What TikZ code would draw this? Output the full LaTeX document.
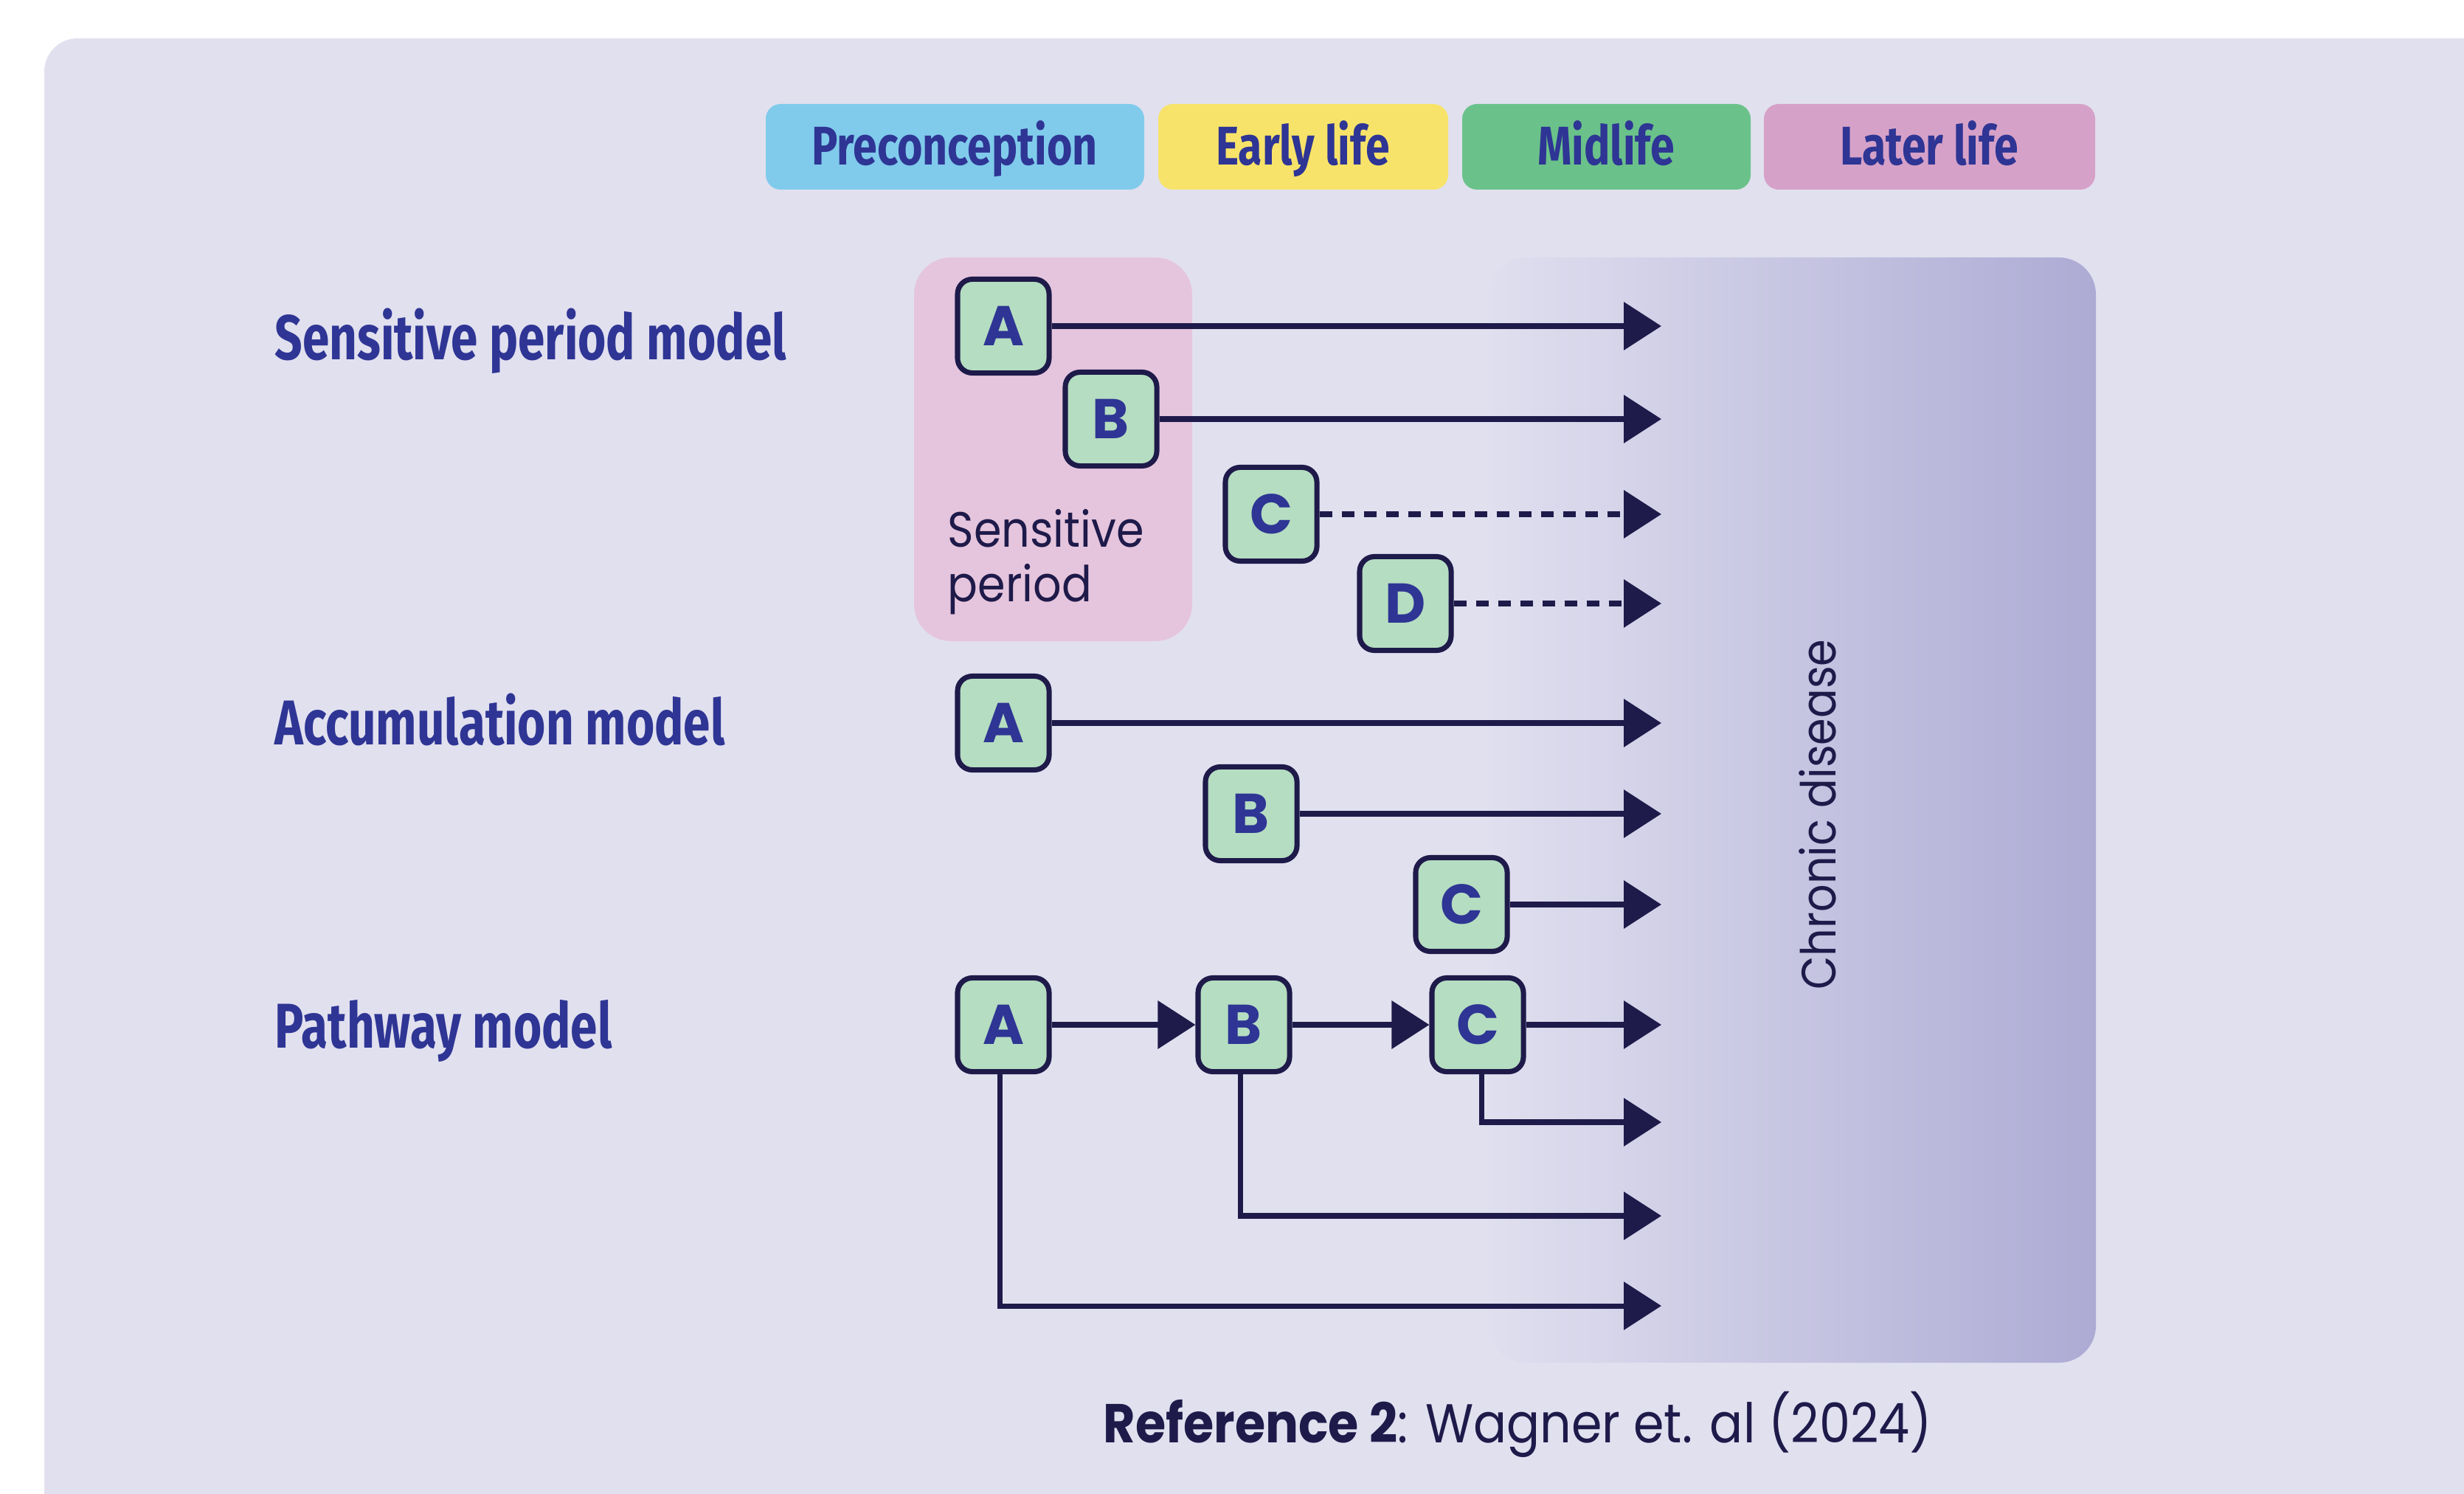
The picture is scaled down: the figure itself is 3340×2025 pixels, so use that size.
\documentclass[tikz,border=0pt]{standalone}
\usepackage{fontspec}
\usetikzlibrary{arrows.meta}
\newfontfamily\condb{Fira Sans}[FakeStretch=0.765]
\newfontfamily\condh{Fira Sans}[FakeStretch=0.80]
\newfontfamily\pop{Poppins}
\newfontfamily\popn{Poppins}[FakeStretch=0.90]
\definecolor{bg}{HTML}{E1E0EF}
\definecolor{spink}{HTML}{E5C5DD}
\definecolor{hblue}{HTML}{80CBEB}
\definecolor{hyellow}{HTML}{F8E36A}
\definecolor{hgreen}{HTML}{6AC28A}
\definecolor{hpink}{HTML}{D6A1C8}
\definecolor{boxgreen}{HTML}{B5DDC1}
\definecolor{navy}{HTML}{1E1A4A}
\definecolor{ltr}{HTML}{2E3594}
\definecolor{gradl}{HTML}{E0DFEF}
\definecolor{gradr}{HTML}{ADABD4}
\begin{document}
\begin{tikzpicture}[x=0.01cm,y=-0.01cm,
  box/.style={draw=navy, fill=boxgreen, line width=2pt, rounded corners=0.2cm,
    minimum width=1.24cm, minimum height=1.27cm, inner sep=0pt, text=ltr,
    font=\pop\bfseries\fontsize{21.6pt}{24pt}\selectfont},
  arr/.style={draw=navy, line width=2pt, -{Triangle[length=0.51cm,width=0.64cm]}},
  dsh/.style={arr, dash pattern=on 0.17cm off 0.13cm},
  hdr/.style={rounded corners=0.2cm, inner sep=0pt},
  hdrtxt/.style={anchor=base, text=ltr, inner sep=0pt,
    font=\condh\bfseries\fontsize{21pt}{24pt}\selectfont},
  model/.style={anchor=base west, text=ltr, inner sep=0pt,
    font=\condb\bfseries\fontsize{24.4pt}{28pt}\selectfont},
  body/.style={text=navy, inner sep=0pt, font=\popn\fontsize{19.1pt}{22pt}\selectfont}
]
\useasboundingbox (0,0) rectangle (3340,2025);
\fill[white] (0,0) rectangle (3340,2025);
\fill[bg, rounded corners=0.45cm] (60,52) rectangle (3500,2200);

% header
\fill[hblue, hdr] (1038,141) rectangle (1551,257);
\fill[hyellow, hdr] (1570,141) rectangle (1963,257);
\fill[hgreen, hdr] (1982,141) rectangle (2373,257);
\fill[hpink, hdr] (2391,141) rectangle (2840,257);
\node[hdrtxt] (h1) at (1294,224) {Preconception};
\node[hdrtxt] (h2) at (1766,224) {Early life};
\node[hdrtxt] (h3) at (2177,224) {Midlife};
\node[hdrtxt] (h4) at (2615,224) {Later life};

% chronic disease panel
\shade[left color=gradl, right color=gradr, rounded corners=0.5cm] (2019,349) rectangle (2841,1847);
\node[body, rotate=90, font=\popn\fontsize{18.6pt}{22pt}\selectfont] (cd) at (2464,1104) {Chronic disease};

% sensitive period panel
\fill[spink, rounded corners=0.5cm] (1239,349) rectangle (1616,869);
\node[body, anchor=base west] (sp1) at (1284,741) {Sensitive};
\node[body, anchor=base west] (sp2) at (1284,815) {period};

% model labels
\node[model] (m1) at (372,488) {Sensitive period model};
\node[model] (m2) at (372,1009) {Accumulation model};
\node[model] (m3) at (372,1420) {Pathway model};

\coordinate (tip) at (2252,0);

% sensitive period model
\node[box] (sA) at (1360,442) {A};
\node[box] (sB) at (1506,568) {B};
\node[box] (sC) at (1723,697) {C};
\node[box] (sD) at (1905,818) {D};
\draw[arr] (sA.east) -- (sA.east -| tip);
\draw[arr] (sB.east) -- (sB.east -| tip);
\draw[dsh] (sC.east) -- (sC.east -| tip);
\draw[dsh] (sD.east) -- (sD.east -| tip);

% accumulation model
\node[box] (aA) at (1360,980) {A};
\node[box] (aB) at (1696,1103) {B};
\node[box] (aC) at (1981,1226) {C};
\draw[arr] (aA.east) -- (aA.east -| tip);
\draw[arr] (aB.east) -- (aB.east -| tip);
\draw[arr] (aC.east) -- (aC.east -| tip);

% pathway model
\node[box] (pA) at (1360,1389) {A};
\node[box] (pB) at (1686,1389) {B};
\node[box] (pC) at (2003,1389) {C};
\coordinate (pCe) at (2252,1521);
\coordinate (pBe) at (2252,1648);
\coordinate (pAe) at (2252,1770);
\draw[arr] (pA) -- (pB);
\draw[arr] (pB) -- (pC);
\draw[arr] (pC.east) -- (pC.east -| tip);
\draw[arr] ([xshift=0.05cm]pC.south) |- (pCe);
\draw[arr] ([xshift=-0.05cm]pB.south) |- (pBe);
\draw[arr] ([xshift=-0.05cm]pA.south) |- (pAe);

% caption
\node[anchor=base west, text=navy, inner sep=0pt, font=\popn\fontsize{21.1pt}{24pt}\selectfont] (cap) at (1495,1955) {\textbf{Reference 2}: Wagner et. al (2024)};
\end{tikzpicture}
\end{document}
